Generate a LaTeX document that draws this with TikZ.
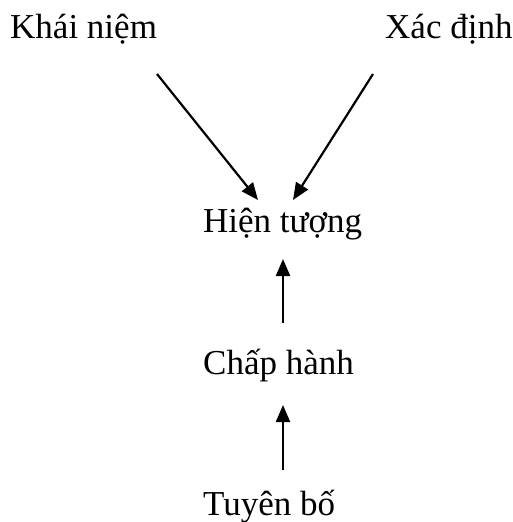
\documentclass[tikz,border=0pt]{standalone}
\usepackage{fontspec}
\setmainfont{Liberation Serif}
\usetikzlibrary{arrows.meta}
\begin{document}
\begin{tikzpicture}[x=1pt,y=-1pt,
  lbl/.style={anchor=base west,inner sep=0pt,font=\fontsize{35}{40}\selectfont},
  conn/.style={line width=2.2pt,-{Triangle[length=17pt,width=14pt]}}]
\useasboundingbox (0,0) rectangle (512,522);
\node[lbl] (kn) at (10,38) {Khái niệm};
\node[lbl] (xd) at (385,38) {Xác định};
\node[lbl] (ht) at (203,232) {Hiện tượng};
\node[lbl] (ch) at (203,374) {Chấp hành};
\node[lbl] (tb) at (203,515) {Tuyên bố};
\coordinate (a1s) at (157,74);
\coordinate (a1e) at (258,200);
\coordinate (a2s) at (373,74);
\coordinate (a2e) at (293,200);
\coordinate (a3s) at (283,323);
\coordinate (a3e) at (283,259);
\coordinate (a4s) at (283,470);
\coordinate (a4e) at (283,405);
\draw[conn] (a1s) -- (a1e);
\draw[conn] (a2s) -- (a2e);
\draw[conn] (a3s) -- (a3e);
\draw[conn] (a4s) -- (a4e);
\end{tikzpicture}
\end{document}
